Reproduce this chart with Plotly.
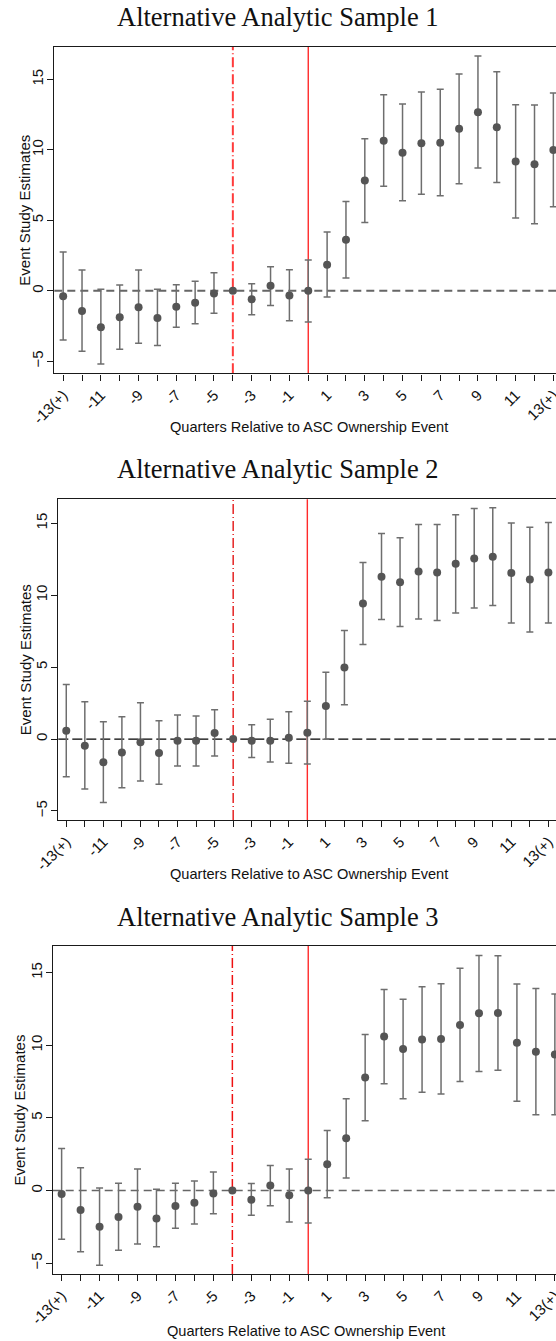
import numpy as np
import plotly.graph_objects as go

quarters = list(range(-13, 14))
tick_text = {-13: "-13(+)", 13: "13(+)"}

titles = ["Alternative Analytic Sample 1", "Alternative Analytic Sample 2", "Alternative Analytic Sample 3"]

est1 = [-0.40, -1.44, -2.60, -1.89, -1.18, -1.94, -1.13, -0.85, -0.19, 0.0, -0.61, 0.36, -0.33,
        0.0, 1.85, 3.62, 7.83, 10.65, 9.80, 10.46, 10.50, 11.50, 12.66, 11.60, 9.18, 8.97, 9.99]
hi1 = [2.75, 1.47, 0.10, 0.40, 1.47, 0.10, 0.43, 0.67, 1.28, None, 0.50, 1.70, 1.49,
       2.18, 4.17, 6.34, 10.79, 13.91, 13.25, 14.10, 14.31, 15.38, 16.66, 15.54, 13.20, 13.18, 14.03]
lo1 = [-3.50, -4.30, -5.20, -4.16, -3.73, -3.88, -2.60, -2.34, -1.60, None, -1.70, -1.04, -2.13,
       -2.22, -0.45, 0.90, 4.85, 7.41, 6.39, 6.84, 6.74, 7.59, 8.71, 7.69, 5.16, 4.76, 5.96]

est2 = [0.58, -0.46, -1.62, -0.93, -0.23, -0.97, -0.12, -0.12, 0.42, 0.0, -0.12, -0.12, 0.09,
        0.44, 2.30, 4.97, 9.42, 11.28, 10.90, 11.65, 11.58, 12.18, 12.55, 12.67, 11.55, 11.09, 11.58]
hi2 = [3.80, 2.60, 1.21, 1.55, 2.53, 1.28, 1.67, 1.60, 2.04, None, 1.00, 1.37, 1.90,
       2.62, 4.64, 7.54, 12.27, 14.29, 13.99, 14.92, 14.92, 15.59, 16.03, 16.08, 15.03, 14.73, 15.06]
lo2 = [-2.62, -3.48, -4.41, -3.38, -2.92, -3.15, -1.88, -1.88, -1.18, None, -1.28, -1.60, -1.69,
       -1.74, -0.02, 2.39, 6.57, 8.31, 7.82, 8.35, 8.24, 8.77, 9.12, 9.28, 8.07, 7.45, 8.07]

est3 = [-0.24, -1.34, -2.49, -1.82, -1.11, -1.92, -1.07, -0.84, -0.20, 0.0, -0.63, 0.34, -0.33,
        0.0, 1.81, 3.60, 7.79, 10.60, 9.75, 10.40, 10.44, 11.40, 12.20, 12.23, 10.17, 9.55, 9.37]
hi3 = [2.89, 1.56, 0.18, 0.50, 1.49, 0.09, 0.50, 0.66, 1.28, None, 0.48, 1.72, 1.49,
       2.15, 4.14, 6.32, 10.74, 13.85, 13.17, 14.04, 14.24, 15.30, 16.19, 16.17, 14.22, 13.92, 13.53]
lo3 = [-3.36, -4.21, -5.15, -4.12, -3.68, -3.87, -2.60, -2.31, -1.60, None, -1.71, -1.05, -2.17,
       -2.24, -0.50, 0.87, 4.81, 7.35, 6.32, 6.76, 6.64, 7.51, 8.20, 8.29, 6.14, 5.22, 5.22]

ref_quarter = -4
event_quarter = 0

W, H = 556, 1341
panels = [
    dict(left=54.3, top=47.0, bottom=373.3, xr=[-13.47, 13.14], yr=[-5.86, 17.30],
         title_y=17, ytitle_x=24.5, xtitle_y=427.5, xtitle_x=308.5,
         zero=dict(color="#666666", width=1.8, dash="8px,5px"),
         vdash=dict(color="#ff3b3b", width=2.0, dash="10px,3px,1px,3px")),
    dict(left=58.3, top=499.3, bottom=820.0, xr=[-13.43, 13.41], yr=[-5.63, 16.67],
         title_y=469, ytitle_x=25.5, xtitle_y=874, xtitle_x=308.5,
         zero=dict(color="#000000", width=1.2, dash="10px,4px"),
         vdash=dict(color="#e00000", width=1.3, dash="10px,3px,1px,3px")),
    dict(left=52.7, top=946.0, bottom=1274.0, xr=[-13.47, 13.06], yr=[-5.75, 16.84],
         title_y=917, ytitle_x=18.5, xtitle_y=1331, xtitle_x=306,
         zero=dict(color="#666666", width=1.7, dash="8px,5px"),
         vdash=dict(color="#ee1111", width=1.5, dash="10px,3px,1px,3px")),
]
data = [(est1, hi1, lo1), (est2, hi2, lo2), (est3, hi3, lo3)]

def f(v):
    return np.array([np.nan if x is None else x for x in v], dtype=float)

fig = go.Figure()
shapes = []
annotations = []
tickvals = quarters
ticktext = [tick_text.get(q, str(q)) if q % 2 != 0 else "" for q in quarters]

sans = "Liberation Sans, Arial, sans-serif"
serif = "Liberation Serif, Times New Roman, serif"

for i, (p, (e, h, l)) in enumerate(zip(panels, data)):
    n = "" if i == 0 else str(i + 1)
    xa, ya = "x" + n, "y" + n
    e_, h_, l_ = f(e), f(h), f(l)
    fig.add_trace(go.Scatter(
        x=quarters, y=e_, mode="markers", xaxis=xa, yaxis=ya, showlegend=False,
        marker=dict(size=8, color="#555555"),
        error_y=dict(type="data", symmetric=False, array=h_ - e_, arrayminus=e_ - l_,
                     color="#6e6e6e", thickness=1.5, width=3.5),
    ))
    dom_x = [p["left"] / W, 1.0]
    dom_y = [1 - p["bottom"] / H, 1 - p["top"] / H]
    axis_common = dict(showgrid=False, zeroline=False, showline=True, linecolor="#1a1a1a",
                       linewidth=1.4, ticks="outside", ticklen=6, tickwidth=1,
                       tickcolor="#1a1a1a", automargin=False, ticklabeloverflow="allow",
                       tickfont=dict(family=sans, size=15, color="#111111"))
    fig.update_layout(**{
        ("xaxis" + n): dict(axis_common, domain=dom_x, range=p["xr"], anchor=ya,
                            tickmode="array", tickvals=tickvals, ticktext=ticktext,
                            tickangle=-45, mirror=True),
        ("yaxis" + n): dict(axis_common, domain=dom_y, range=p["yr"], anchor=xa,
                            tickmode="array", tickvals=[-5, 0, 5, 10, 15], tickangle=-90,
                            ticklabelstandoff=-2),
    })
    shapes.append(dict(type="line", xref=xa + " domain", yref=ya, x0=0, x1=1, y0=0, y1=0,
                       line=p["zero"], layer="below"))
    shapes.append(dict(type="line", xref=xa, yref=ya + " domain", x0=ref_quarter, x1=ref_quarter,
                       y0=0, y1=1, line=p["vdash"], layer="below"))
    shapes.append(dict(type="line", xref=xa, yref=ya + " domain", x0=event_quarter, x1=event_quarter,
                       y0=0, y1=1, line=dict(color="#ff2a2a", width=1.4), layer="below"))
    annotations.append(dict(text=titles[i], xref="paper", yref="paper", x=0.5, y=1 - p["title_y"] / H,
                            xanchor="center", yanchor="middle", showarrow=False,
                            font=dict(family=serif, size=26.5, color="#111111")))
    annotations.append(dict(text="Event Study Estimates", xref="paper", yref="paper",
                            x=p["ytitle_x"] / W, y=1 - (p["top"] + p["bottom"]) / 2 / H,
                            xanchor="center", yanchor="middle", textangle=-90, showarrow=False,
                            font=dict(family=sans, size=15, color="#111111")))
    annotations.append(dict(text="Quarters Relative to ASC Ownership Event", xref="paper", yref="paper",
                            x=p["xtitle_x"] / W, y=1 - p["xtitle_y"] / H,
                            xanchor="center", yanchor="middle", showarrow=False,
                            font=dict(family=sans, size=14.6, color="#111111")))

fig.update_layout(width=W, height=H, autosize=False, margin=dict(l=0, r=0, t=0, b=0),
                  paper_bgcolor="white", plot_bgcolor="white", template="none",
                  shapes=shapes, annotations=annotations, showlegend=False)
fig.write_html("out.html")
